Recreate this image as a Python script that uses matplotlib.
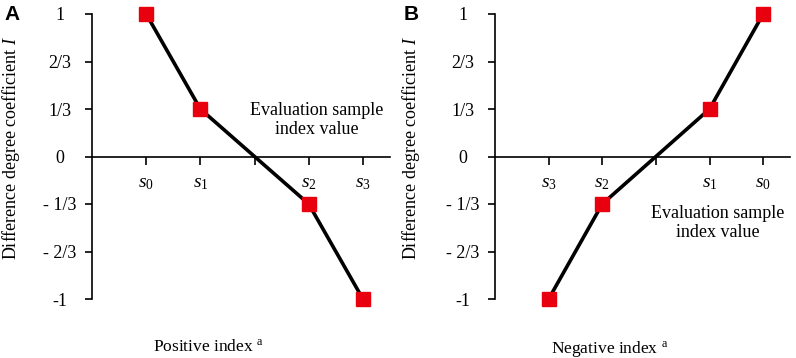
import matplotlib
matplotlib.use("Agg")
import matplotlib.pyplot as plt

plt.rcParams['font.family'] = ['Liberation Serif', 'DejaVu Serif']
plt.rcParams['mathtext.fontset'] = 'custom'
plt.rcParams['mathtext.rm'] = 'Liberation Serif'
plt.rcParams['mathtext.it'] = 'Liberation Serif:italic'

# data
tick_pos = [1, 2, 3, 4, 5]
x_points = [1, 2, 4, 5]
values_a = [1, 1/3, -1/3, -1]
values_b = [-1, -1/3, 1/3, 1]
xlabels_a = ['$s_0$', '$s_1$', '', '$s_2$', '$s_3$']
xlabels_b = ['$s_3$', '$s_2$', '', '$s_1$', '$s_0$']
y_ticks = [1, 2/3, 1/3, 0, -1/3, -2/3, -1]
y_labels = ['1', '2/3', '1/3', '0', '- 1/3', '- 2/3', '-1']

W, H = 796, 358
fig = plt.figure(figsize=(W / 100, H / 100), dpi=100)

def make_panel(left_px, width_px, values, xlabels, xlab, note_xy, letter, letter_x):
    ax = fig.add_axes([left_px / W, (H - 299) / H, width_px / W, 285 / H])
    ax.plot(x_points, values, color='black', lw=2.6, marker='s', ms=9.5,
            mfc='#e8000f', mec='#e8000f', clip_on=False, zorder=3)
    ax.set_xlim(0, 5.5)
    ax.set_ylim(-1, 1)
    for s in ['top', 'right']:
        ax.spines[s].set_visible(False)
    ax.spines['bottom'].set_position(('data', 0))
    ax.spines['left'].set_linewidth(1.2)
    ax.spines['bottom'].set_linewidth(1.2)
    ax.set_xticks(tick_pos)
    ax.set_xticklabels(xlabels, fontsize=14)
    ax.set_yticks(y_ticks)
    ax.set_yticklabels(y_labels, fontsize=13, ha='center')
    ax.tick_params(axis='x', direction='out', length=6, width=1.2, pad=7)
    ax.tick_params(axis='y', direction='out', length=5, width=1.2, pad=18)
    ax.set_ylabel('Difference degree coefficient $I$', fontsize=13)
    ax.yaxis.set_label_coords(-(left_px - letter_x - 18) / width_px, 0.53)
    ax.set_xlabel(xlab, fontsize=12.5)
    ax.xaxis.set_label_coords(0.39, -0.14)
    ax.text(note_xy[0], note_xy[1], 'Evaluation sample\nindex value', transform=ax.transAxes,
            ha='center', va='center', fontsize=13, linespacing=1.1)
    fig.text(letter_x / W, 1 - 14 / H, letter, fontsize=15, fontweight='bold',
             family='Liberation Sans', ha='left', va='center')
    return ax

make_panel(92, 298, values_a, xlabels_a, 'Positive index $^{\\rm a}$', (0.755, 0.628), 'A', 4)
make_panel(495, 295, values_b, xlabels_b, 'Negative index $^{\\rm a}$', (0.756, 0.267), 'B', 404)

fig.savefig('out.png', dpi=100)
